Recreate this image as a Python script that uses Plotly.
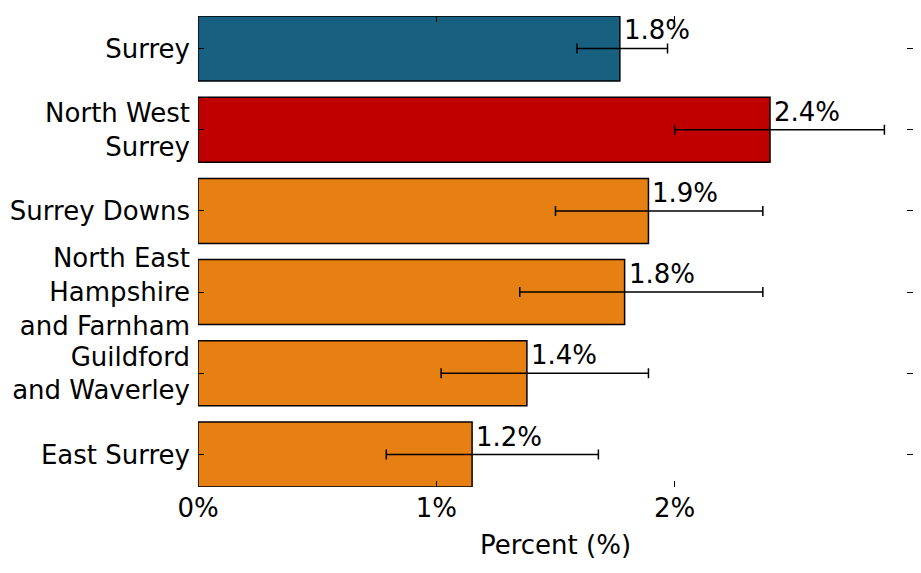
import plotly.graph_objects as go

# data
areas = ["Surrey", "North West<br>Surrey", "Surrey Downs",
         "North East<br>Hampshire<br>and Farnham", "Guildford<br>and Waverley",
         "East Surrey"]
percent = [1.77, 2.40, 1.89, 1.79, 1.38, 1.15]
ci_low = [1.59, 2.00, 1.50, 1.35, 1.02, 0.79]
ci_high = [1.97, 2.88, 2.37, 2.37, 1.89, 1.68]
bar_labels = ["1.8%", "2.4%", "1.9%", "1.8%", "1.4%", "1.2%"]
x_ticks = [0, 1, 2]
x_tick_labels = ["0%", "1%", "2%"]

colours = ["#17607F", "#C00000", "#E68013", "#E68013", "#E68013", "#E68013"]

FONT = "DejaVu Sans"
SIZE = 26

fig = go.Figure()
fig.add_trace(go.Bar(
    x=percent,
    y=areas,
    orientation="h",
    width=0.8,
    marker=dict(color=colours, line=dict(color="black", width=1.5)),
    error_x=dict(
        type="data",
        symmetric=False,
        array=[h - p for h, p in zip(ci_high, percent)],
        arrayminus=[p - l for l, p in zip(ci_low, percent)],
        color="black",
        thickness=1.5,
        width=5,
    ),
    hoverinfo="skip",
))

# value labels just right of bar end, sitting above the centre line
for area, val, lab in zip(areas, percent, bar_labels):
    fig.add_annotation(
        x=val, y=area, text=lab, showarrow=False,
        xanchor="left", yanchor="bottom", xshift=2, yshift=1,
        font=dict(family=FONT, size=SIZE, color="black"),
    )

# page body has an 8px margin, so the figure is shrunk to fit the window
fig.update_layout(
    width=913,
    height=565,
    margin=dict(l=190, r=8, t=8, b=86),
    plot_bgcolor="white",
    paper_bgcolor="white",
    showlegend=False,
    font=dict(family=FONT, size=SIZE, color="black"),
)
fig.update_xaxes(
    range=[0, 3],
    tickvals=x_ticks,
    ticktext=x_tick_labels,
    ticks="inside",
    ticklen=6,
    tickcolor="black",
    mirror="ticks",
    showline=False,
    showgrid=False,
    zeroline=False,
    automargin=False,
    ticklabelstandoff=3,
    title=dict(text="Percent (%)", standoff=13, font=dict(size=SIZE)),
    tickfont=dict(size=SIZE),
)
fig.update_yaxes(
    categoryorder="array",
    categoryarray=areas,
    range=[5.4, -0.4],
    ticks="inside",
    ticklen=6,
    tickcolor="black",
    mirror="ticks",
    showline=False,
    showgrid=False,
    zeroline=False,
    automargin=False,
    ticklabelstandoff=7,
    tickfont=dict(size=SIZE),
)

fig.write_html("out.html")
